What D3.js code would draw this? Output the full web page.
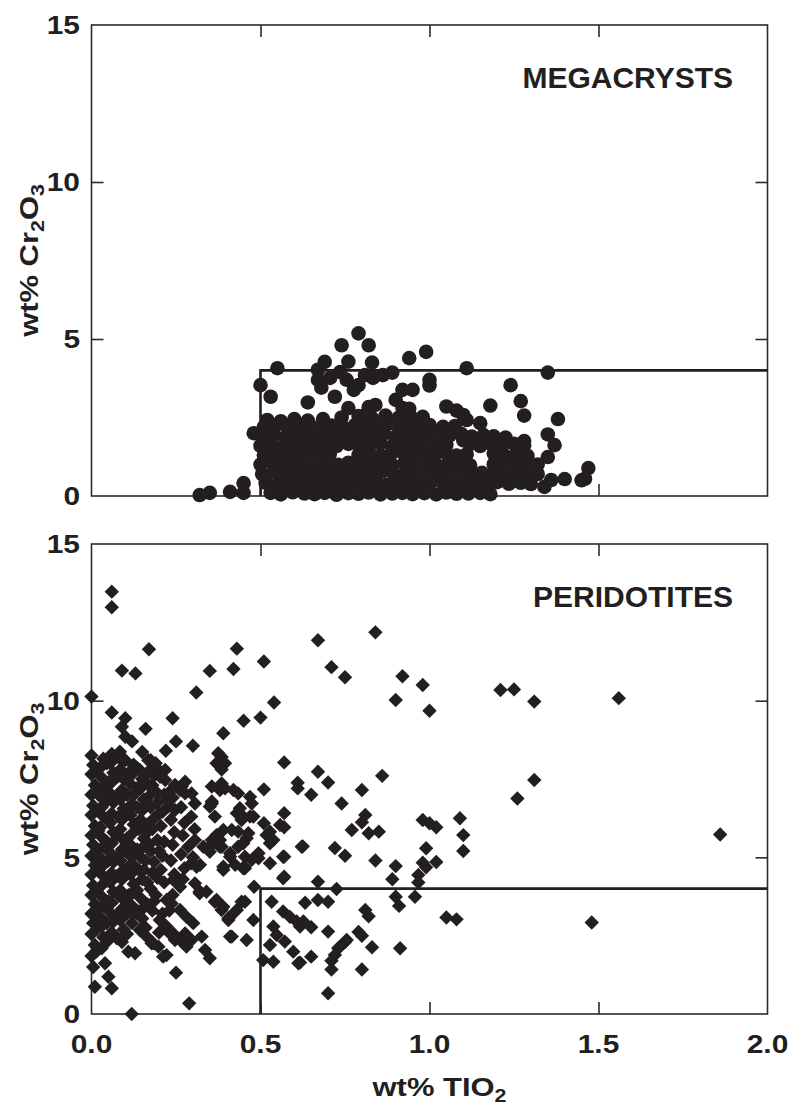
<!DOCTYPE html>
<html>
<head>
<meta charset="utf-8">
<script src="https://cdn.jsdelivr.net/npm/d3@7"></script>
<style>
  html, body { margin: 0; padding: 0; background: #fff; }
  svg { display: block; }
  text { font-family: "Liberation Sans", Arial, Helvetica, sans-serif; font-weight: bold; fill: #231f20; }
</style>
</head>
<body>
<svg id="chart" width="795" height="1108"></svg>
<script>
// ---- axis ticks and reference box (wt% TiO2 > 0.5, wt% Cr2O3 < 4) ----
const xTicks = [0.0, 0.5, 1.0, 1.5, 2.0];
const yTicks = [0, 5, 10, 15];
const boxTi = 0.5;
const boxCr = 4;

// ---- megacryst garnets: [wt% TiO2, wt% Cr2O3] ----
const megaScattered = [
  [0.32,0.03],[0.35,0.1],[0.41,0.13],[0.45,0.41],[0.45,0.1],[0.48,2.0],
  [0.5,3.53],[0.53,3.16],[0.55,4.07],[0.64,2.98],[0.67,4.02],[0.69,4.27],[0.67,3.7],[0.68,3.45],
  [0.79,5.18],[0.74,4.8],[0.82,4.8],[0.76,4.28],[0.83,4.25],
  [0.736,3.95],[0.706,3.76],[0.755,3.7],[0.79,3.53],[0.776,3.38],[0.809,3.85],[0.833,3.76],[0.862,3.85],[0.89,3.93],[0.72,3.16],
  [0.94,4.39],[0.99,4.59],[1.11,4.07],[1.35,3.93],[1.0,3.7],[1.0,3.52],
  [0.92,3.38],[0.95,3.38],[0.9,3.06],[0.76,2.8],[0.82,2.83],[0.84,2.9],[0.81,2.58],[0.92,2.8],[0.94,2.78],[0.98,2.52],[0.685,2.45],
  [1.24,3.53],[1.27,3.02],[1.28,2.56],[1.18,2.88],[1.38,2.45],[1.35,1.96],[1.37,1.62],[1.28,1.75],
  [1.05,2.85],[1.08,2.72],[1.1,2.58],[1.11,2.42],[1.01,2.1],[1.15,2.32],
  [1.35,1.24],[1.4,0.54],[1.47,0.89],[1.46,0.55],[1.45,0.5],[1.36,0.51],[1.34,0.29]
];
const megaCluster = [
  [0.53,0.1],[0.56,0.05],[0.595,0.12],[0.63,0.08],[0.66,0.06],[0.69,0.1],[0.725,0.04],[0.76,0.09],[0.79,0.07],[0.82,0.11],[0.855,0.05],[0.89,0.08],[0.92,0.1],[0.95,0.06],[0.985,0.09],[1.02,0.05],[1.05,0.11],[1.08,0.07],[1.115,0.08],[1.15,0.1],[1.18,0.06],
  [0.515,0.42],[0.55,0.36],[0.58,0.45],[0.615,0.38],[0.65,0.4],[0.68,0.44],[0.71,0.37],[0.745,0.41],[0.78,0.46],[0.81,0.39],[0.845,0.42],[0.875,0.36],[0.91,0.44],[0.94,0.4],[0.97,0.38],[1.005,0.45],[1.04,0.41],[1.07,0.37],[1.1,0.43],[1.135,0.4],[1.17,0.36],[1.2,0.44],[1.235,0.39],[1.27,0.42],[1.3,0.38],
  [0.505,0.7],[0.54,0.75],[0.57,0.68],[0.6,0.73],[0.635,0.77],[0.67,0.7],[0.7,0.74],[0.73,0.69],[0.765,0.76],[0.8,0.71],[0.83,0.73],[0.86,0.78],[0.895,0.69],[0.93,0.74],[0.96,0.71],[0.99,0.76],[1.025,0.7],[1.06,0.73],[1.09,0.77],[1.12,0.69],[1.155,0.74],[1.19,0.71],[1.22,0.75],[1.25,0.68],[1.285,0.73],[1.32,0.7],
  [0.5,1.0],[0.535,1.05],[0.565,0.98],[0.6,1.03],[0.63,1.07],[0.665,1.0],[0.695,1.04],[0.73,0.99],[0.76,1.06],[0.795,1.01],[0.825,1.03],[0.86,1.08],[0.89,0.99],[0.925,1.04],[0.955,1.01],[0.99,1.06],[1.02,1.0],[1.055,1.03],[1.085,1.07],[1.12,0.98],[1.19,1.01],[1.225,1.05],[1.26,0.99],[1.29,1.04],[1.32,1.0],
  [0.51,1.3],[0.545,1.35],[0.575,1.28],[0.61,1.33],[0.64,1.37],[0.675,1.3],[0.705,1.34],[0.79,1.31],[0.82,1.36],[0.855,1.29],[0.885,1.33],[0.92,1.38],[0.95,1.3],[0.985,1.34],[1.015,1.31],[1.05,1.36],[1.08,1.29],[1.11,1.33],[1.19,1.35],[1.22,1.3],[1.255,1.33],[1.29,1.28],
  [0.5,1.6],[0.53,1.65],[0.565,1.58],[0.6,1.63],[0.63,1.67],[0.66,1.6],[0.695,1.64],[0.725,1.59],[0.76,1.66],[0.79,1.61],[0.825,1.63],[0.855,1.68],[0.89,1.59],[0.92,1.64],[0.955,1.61],[0.985,1.66],[1.02,1.6],[1.05,1.63],[1.12,1.65],[1.15,1.59],[1.185,1.64],[1.215,1.6],[1.25,1.66],[1.28,1.62],
  [0.505,1.9],[0.54,1.95],[0.575,1.88],[0.605,1.93],[0.64,1.97],[0.67,1.9],[0.705,1.94],[0.735,1.89],[0.77,1.96],[0.8,1.91],[0.835,1.93],[0.865,1.98],[0.9,1.89],[0.93,1.94],[0.965,1.91],[0.995,1.96],[1.03,1.9],[1.06,1.93],[1.095,1.97],[1.125,1.89],[1.16,1.94],[1.19,1.9],[1.225,1.86],
  [0.51,2.2],[0.545,2.25],[0.58,2.18],[0.61,2.23],[0.645,2.27],[0.68,2.2],[0.71,2.24],[0.745,2.19],[0.78,2.26],[0.81,2.21],[0.845,2.23],[0.875,2.28],[0.91,2.19],[0.94,2.24],[0.975,2.21],[1.0,2.26],[1.04,2.2],[1.075,2.23],
  [0.52,2.42],[0.56,2.38],[0.6,2.45],[0.64,2.4],[0.74,2.5],[0.79,2.55],[0.83,2.48],[0.87,2.56],[0.91,2.5],[0.95,2.47],
  [0.585,0.25],[0.7,0.22],[0.84,0.24],[0.97,0.2],[1.1,0.25],[0.62,0.57],[0.9,0.58],[1.16,0.56],[0.72,0.86],[1.03,0.87],[0.58,1.16],[0.87,1.18],[1.25,1.16],[0.68,1.47],[0.97,1.46],[1.2,1.48],[0.62,1.77],[0.9,1.78],[1.1,1.77]
];

// ---- peridotite garnets: [wt% TiO2, wt% Cr2O3] ----
const periScattered = [
  [0.06,13.48],[0.06,12.98],[0.17,11.64],[0.09,10.96],[0.13,10.87],[0.0,10.13],[0.06,9.62],[0.1,9.44],[0.09,9.17],[0.1,8.85],[0.12,8.7],[0.16,9.1],
  [0.24,9.44],[0.31,10.26],[0.35,10.95],[0.43,11.66],[0.42,11.01],[0.51,11.25],[0.54,9.94],[0.5,9.46],[0.45,9.36],[0.39,8.96],[0.25,8.7],[0.3,8.56],[0.22,8.4],[0.15,8.36],[0.175,8.1],[0.19,8.0],
  [0.37,8.0],[0.385,8.2],[0.375,8.32],[0.395,8.0],[0.385,7.8],
  [0.67,11.93],[0.84,12.18],[0.71,11.07],[0.75,10.75],[0.9,10.02],[0.92,10.78],[0.98,10.5],[1.0,9.68],[1.21,10.34],[1.25,10.36],[1.31,9.97],[1.56,10.08],
  [1.31,7.47],[1.26,6.88],[1.09,6.25],[1.1,5.71],[1.1,5.2],[1.86,5.73],[1.48,2.92],[1.05,3.08],[1.08,3.02],
  [0.57,8.03],[0.67,7.73],[0.7,7.39],[0.61,7.38],[0.61,7.2],[0.65,7.0],[0.86,7.6],[0.8,7.15],[0.74,6.72],[0.51,7.17],[0.57,6.41],
  [0.81,6.35],[0.8,6.12],[0.77,5.87],[0.82,5.77],[0.85,5.82],[0.98,6.19],[1.0,6.09],[1.02,5.96],
  [0.99,5.29],[0.98,4.83],[1.02,4.85],[0.99,4.68],[0.967,4.44],[0.967,4.2],[0.957,3.74],[0.9,3.74],[0.91,3.45],[0.913,2.1],[0.9,4.72],[0.89,4.3],[0.84,4.9],[0.72,5.3],[0.75,5.05],[0.625,5.35],
  [0.67,4.22],[0.725,3.99],[0.632,3.55],[0.67,3.64],[0.7,3.58],[0.81,3.32],[0.82,3.12],[0.627,2.95],[0.617,2.79],[0.65,2.77],[0.7,2.63],[0.79,2.62],[0.8,2.5],[0.83,2.13],
  [0.75,2.3],[0.73,2.1],[0.72,1.88],[0.71,1.7],[0.71,1.42],[0.65,1.83],[0.617,1.64],[0.8,1.42],[0.7,0.66],[0.755,2.36],[0.735,2.15],
  [0.567,3.27],[0.587,3.1],[0.607,2.95],[0.538,2.79],[0.548,2.52],[0.528,2.2],[0.572,2.31],[0.597,1.99],[0.612,1.62],[0.508,1.72],[0.538,1.67],[0.533,3.58],
  [0.567,4.33],[0.528,4.81],[0.567,5.02],[0.494,4.97],[0.454,4.65],[0.41,5.13],[0.38,5.34],[0.36,5.45],[0.538,5.55],[0.518,5.71],[0.459,5.61],[0.434,5.82],
  [0.39,4.6],[0.449,4.65],[0.481,4.06],[0.479,3.0],[0.454,3.58],[0.43,3.32],[0.41,3.1],[0.39,3.42],[0.37,3.64],[0.34,3.9],[0.32,3.9],[0.41,2.47],[0.459,2.36],
  [0.35,1.78],[0.25,1.32],[0.289,0.34],[0.119,0.0],[0.01,0.87],[0.06,0.82],[0.05,1.19],[0.04,1.62],[0.109,1.99],[0.129,1.94],[0.075,2.42],[0.222,1.88],[0.212,1.83],
  [0.57,5.96],[0.528,5.82],[0.528,5.45],[0.622,5.34],[0.57,5.02],[0.57,4.38],
  [0.43,6.41],[0.444,6.19],[0.415,5.87],[0.464,5.77],[0.434,5.34],[0.449,5.45],[0.494,5.13],[0.474,4.92],[0.454,5.02],[0.41,5.02],[0.385,5.34],[0.37,5.71],[0.356,5.55],[0.38,5.55],[0.39,5.87],
  [0.425,4.76],[0.452,4.7],[0.39,4.7],[0.321,4.76],[0.296,4.81],[0.331,5.34],[0.35,5.18],[0.306,5.55],[0.286,5.34],
  [0.356,6.72],[0.35,6.62],[0.306,6.72],[0.296,7.04],[0.267,7.26],[0.277,7.04],[0.232,7.1],[0.222,6.83],[0.227,6.62],[0.247,6.51],[0.218,7.47],[0.204,7.68],[0.218,7.79],[0.247,7.31],[0.262,7.15],[0.277,7.41],
  [0.385,7.36],[0.395,7.2],[0.42,7.15],[0.434,7.04],[0.356,7.26],[0.356,6.78],[0.439,6.57],[0.449,6.3],[0.479,6.3],[0.474,6.72],[0.469,6.93],
  [0.311,4.7],[0.321,3.9],[0.262,4.06],[0.242,4.28],[0.222,3.64],[0.237,3.53],[0.262,3.32],[0.281,3.1],[0.301,2.9],[0.202,3.0],[0.222,2.79],[0.242,2.57],[0.262,2.36],[0.281,2.15],[0.143,2.68],[0.163,2.47],[0.183,2.26]
];
const periCore = [
  [0.005,1.5],[0.0,1.85],[0.01,2.2],[0.0,2.55],[0.005,2.9],[0.0,3.2],[0.01,3.5],[0.0,3.8],[0.005,4.1],[0.0,4.45],[0.01,4.75],[0.0,5.05],[0.005,5.4],[0.0,5.7],[0.01,6.0],[0.0,6.35],[0.005,6.65],[0.0,7.0],[0.01,7.3],[0.0,7.65],[0.005,7.95],[0.0,8.25],
  [0.015,2.0],[0.015,2.7],[0.02,3.35],[0.015,3.95],[0.02,4.6],[0.015,5.2],[0.02,5.85],[0.015,6.5],[0.02,7.15],[0.015,7.8],
  [0.03,2.1],[0.035,2.45],[0.03,2.8],[0.025,3.1],[0.035,3.45],[0.03,3.75],[0.025,4.05],[0.035,4.4],[0.03,4.7],[0.025,5.0],[0.035,5.35],[0.03,5.65],[0.025,5.95],[0.035,6.3],[0.03,6.6],[0.025,6.95],[0.035,7.25],[0.03,7.55],[0.025,7.85],[0.035,8.15],
  [0.045,2.3],[0.045,2.9],[0.05,3.6],[0.045,4.25],[0.05,4.9],[0.045,5.5],[0.05,6.15],[0.045,6.8],[0.05,7.4],[0.045,8.0],
  [0.06,2.6],[0.065,2.95],[0.055,3.25],[0.06,3.55],[0.065,3.9],[0.055,4.2],[0.06,4.5],[0.065,4.85],[0.055,5.15],[0.06,5.45],[0.065,5.8],[0.055,6.1],[0.06,6.4],[0.065,6.75],[0.055,7.05],[0.06,7.4],[0.065,7.7],[0.055,8.0],[0.06,8.3],
  [0.075,2.45],[0.075,3.15],[0.08,3.8],[0.075,4.4],[0.08,5.05],[0.075,5.7],[0.08,6.3],[0.075,6.95],[0.08,7.6],[0.075,8.2],
  [0.09,2.3],[0.095,2.7],[0.085,3.0],[0.09,3.35],[0.095,3.65],[0.085,3.95],[0.09,4.3],[0.095,4.6],[0.085,4.9],[0.09,5.25],[0.095,5.55],[0.085,5.9],[0.09,6.2],[0.095,6.55],[0.085,6.85],[0.09,7.15],[0.095,7.5],[0.085,7.8],[0.09,8.1],
  [0.105,2.55],[0.105,3.2],[0.11,3.8],[0.105,4.65],[0.11,5.1],[0.105,5.6],[0.11,6.4],[0.105,7.0],[0.11,7.7],
  [0.12,2.9],[0.125,3.2],[0.115,3.5],[0.12,3.85],[0.125,4.15],[0.115,4.45],[0.12,4.8],[0.125,5.1],[0.115,5.4],[0.12,5.75],[0.125,6.05],[0.115,6.35],[0.12,6.7],[0.125,7.0],[0.115,7.35],[0.12,7.65],[0.125,7.95],
  [0.135,3.3],[0.135,3.95],[0.14,4.6],[0.135,5.25],[0.14,5.9],[0.135,6.6],[0.14,7.25],[0.135,7.85],
  [0.15,3.05],[0.155,3.4],[0.145,3.7],[0.15,4.3],[0.155,4.6],[0.145,5.0],[0.15,5.3],[0.155,5.6],[0.145,6.2],[0.15,6.5],[0.155,6.85],[0.145,7.2],[0.15,7.5],
  [0.165,3.5],[0.165,4.2],[0.17,5.4],[0.165,6.05],[0.17,6.95],[0.165,7.7],[0.16,4.9],[0.165,5.8],[0.16,6.7],[0.17,7.3],
  [0.18,3.3],[0.185,3.6],[0.175,4.0],[0.18,4.5],[0.185,4.85],[0.175,5.2],[0.18,5.9],[0.185,6.25],[0.175,6.6],[0.18,7.3],[0.185,7.6],
  [0.195,4.35],[0.195,5.55],[0.2,6.4],[0.195,7.05],[0.2,5.2],[0.195,6.75],
  [0.21,3.2],[0.215,4.2],[0.205,4.6],[0.21,5.05],[0.215,5.5],[0.205,6.0],[0.21,6.45],[0.215,7.0],
  [0.24,3.8],[0.245,4.45],[0.235,4.9],[0.24,5.4],[0.245,5.8],[0.235,6.2],[0.24,6.9],
  [0.27,4.3],[0.275,4.65],[0.265,5.1],[0.27,5.7],[0.275,6.1],[0.265,6.6],
  [0.3,5.0],[0.305,5.9],[0.295,6.3],
  [0.084,8.37],[0.1,8.1],[0.124,7.95],[0.143,7.79],[0.168,8.1],[0.188,7.9],[0.203,7.57],
  [0.16,2.75],[0.2,2.6],[0.19,3.8],[0.23,3.3],[0.306,4.17],[0.32,3.85],[0.365,3.58],[0.385,3.32],[0.405,3.05],[0.444,3.58],[0.415,2.47],[0.405,3.0],
  [0.277,2.57],[0.296,2.36],[0.326,2.47],[0.336,2.04],[0.198,2.15],[0.178,2.26],[0.247,2.36],[0.232,2.57],
  [0.38,7.15],[0.469,6.3],[0.51,6.09],[0.558,6.03],[0.365,6.3]
];

// ---- layout ----
const ink = "#231f20";
const frameColor = "#2b2b2b";
const svg = d3.select("#chart");
const x = d3.scaleLinear().domain([0, 2]).range([91.5, 767.5]);

const panels = [
  { title: "MEGACRYSTS", top: 25, bottom: 496, data: megaScattered.concat(megaCluster), shape: "circle", xLabels: false },
  { title: "PERIDOTITES", top: 544, bottom: 1014, data: periCore.concat(periScattered), shape: "diamond", xLabels: true }
];

const diamond = d3.symbol(d3.symbolSquare, 104)();

panels.forEach(p => {
  const y = d3.scaleLinear().domain([0, 15]).range([p.bottom, p.top]);
  const g = svg.append("g");

  // plot frame
  g.append("rect")
    .attr("x", x(0)).attr("y", y(15))
    .attr("width", x(2) - x(0)).attr("height", y(0) - y(15))
    .attr("fill", "none").attr("stroke", frameColor).attr("stroke-width", 1.6);

  // inward ticks on all four sides
  const inner = [0.5, 1.0, 1.5];
  const innerY = [5, 10];
  const styleAxis = sel => {
    sel.select(".domain").remove();
    sel.selectAll(".tick line").attr("stroke", frameColor).attr("stroke-width", 1.6);
    sel.selectAll(".tick text").remove();
  };
  g.append("g").attr("transform", `translate(0,${y(0)})`)
    .call(d3.axisBottom(x).tickValues(inner).tickSize(-12)).call(styleAxis);
  g.append("g").attr("transform", `translate(0,${y(15)})`)
    .call(d3.axisTop(x).tickValues(inner).tickSize(-12)).call(styleAxis);
  g.append("g").attr("transform", `translate(${x(0)},0)`)
    .call(d3.axisLeft(y).tickValues(innerY).tickSize(-12)).call(styleAxis);
  g.append("g").attr("transform", `translate(${x(2)},0)`)
    .call(d3.axisRight(y).tickValues(innerY).tickSize(-12)).call(styleAxis);

  // reference field: TiO2 above 0.5 and Cr2O3 below 4
  g.append("path")
    .attr("d", d3.line()([[x(boxTi), y(0)], [x(boxTi), y(boxCr)], [x(2), y(boxCr)]]))
    .attr("fill", "none").attr("stroke", ink).attr("stroke-width", 2.6);

  // y tick labels
  yTicks.forEach(v => {
    g.append("g").attr("transform", `translate(80,${y(v) + 9.3}) scale(1.15,1)`)
      .append("text").attr("text-anchor", "end").attr("font-size", 26).text(d3.format("d")(v));
  });

  // y axis title
  const yt = g.append("g")
    .attr("transform", `translate(38,${(p.top + p.bottom) / 2}) rotate(-90) scale(1.19,1)`)
    .append("text").attr("text-anchor", "middle").attr("font-size", 26);
  yt.append("tspan").text("wt% Cr");
  yt.append("tspan").attr("font-size", 18).attr("dy", 6).text("2");
  yt.append("tspan").attr("dy", -6).text("O");
  yt.append("tspan").attr("font-size", 18).attr("dy", 6).text("3");

  // panel label
  g.append("text").attr("x", 733).attr("y", p.top + 63)
    .attr("text-anchor", "end").attr("font-size", 30).text(p.title);

  // samples
  if (p.shape === "circle") {
    g.append("g").selectAll("circle").data(p.data).join("circle")
      .attr("cx", d => x(d[0])).attr("cy", d => y(d[1])).attr("r", 7.3)
      .attr("fill", ink);
  } else {
    g.append("g").selectAll("path").data(p.data).join("path")
      .attr("d", diamond)
      .attr("transform", d => `translate(${x(d[0])},${y(d[1])}) rotate(45)`)
      .attr("fill", ink);
  }

  // x tick labels and title on the lower panel
  if (p.xLabels) {
    xTicks.forEach(v => {
      g.append("g").attr("transform", `translate(${x(v)},1053) scale(1.15,1)`)
        .append("text").attr("text-anchor", "middle").attr("font-size", 26).text(d3.format(".1f")(v));
    });
    const xt = g.append("g").attr("transform", `translate(${x(1) + 10},1096) scale(1.19,1)`)
      .append("text").attr("text-anchor", "middle").attr("font-size", 26);
    xt.append("tspan").text("wt% TIO");
    xt.append("tspan").attr("font-size", 18).attr("dy", 6).text("2");
  }
});
</script>
</body>
</html>
